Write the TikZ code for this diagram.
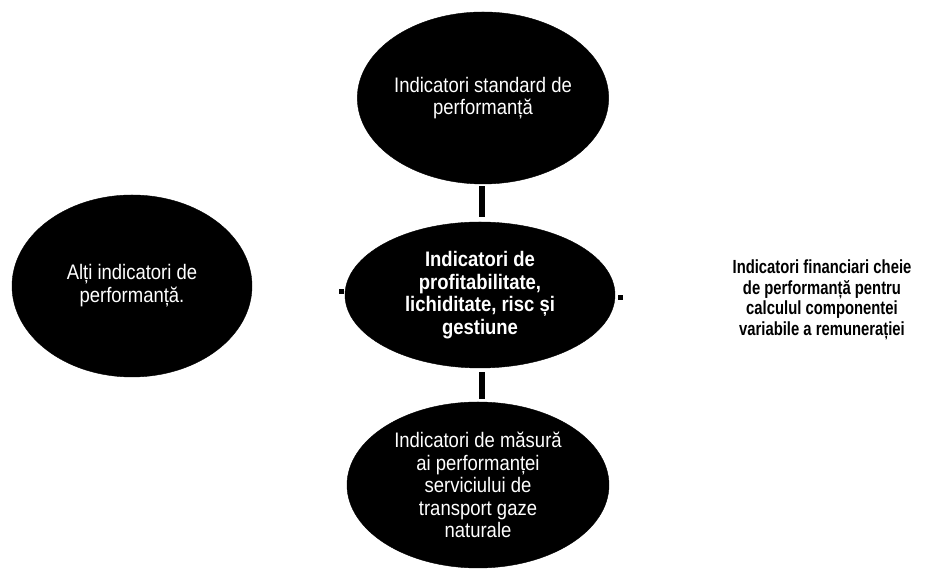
\documentclass[tikz,border=0pt]{standalone}
\usepackage{fontspec}
\setmainfont{Liberation Sans}
\newfontfamily\narrowf[FakeStretch=0.88]{Liberation Sans}
\newfontfamily\condf[FakeStretch=0.78]{Liberation Sans}
\usetikzlibrary{shapes.geometric}
\begin{document}
\begin{tikzpicture}[x=1pt,y=1pt,
  blackell/.style={ellipse, fill=black, draw=black, inner sep=0pt, text=white,
    align=center, font=\narrowf\fontsize{21}{22.5}\selectfont},
  whiteell/.style={ellipse, inner sep=0pt, text=black, align=center,
    font=\condf\bfseries\fontsize{19}{20.5}\selectfont},
  link/.style={line width=6pt, draw=black},
  dotmark/.style={rectangle, fill=black, minimum size=5pt, inner sep=0pt}]
\useasboundingbox (0,0) rectangle (946,569);
\node[blackell, minimum width=248pt, minimum height=172pt] (top) at (483,471)
  {Indicatori standard de\\performanță};
\node[blackell, minimum width=270pt, minimum height=146pt,
  font=\narrowf\bfseries\fontsize{21}{22.5}\selectfont] (mid) at (480,274)
  {Indicatori de\\profitabilitate,\\lichiditate, risc și\\gestiune};
\node[blackell, minimum width=262pt, minimum height=166pt] (bot) at (478,84)
  {Indicatori de măsură\\ai performanței\\serviciului de\\transport gaze\\naturale};
\node[blackell, minimum width=240pt, minimum height=182pt] (left) at (132,283)
  {\raisebox{-4pt}{\shortstack{Alți indicatori de\\performanță.}}};
\node[whiteell, minimum width=260pt, minimum height=190pt] (right) at (822,269)
  {Indicatori financiari cheie\\de performanță pentru\\calculul componentei\\variabile a remunerației};
\node[dotmark] (dl) at (341,277) {};
\node[dotmark] (dr) at (620,271) {};
\coordinate (axis) at (482,0);
\draw[link, shorten <=2pt, shorten >=5pt] (top.south -| axis) -- (mid.north -| axis);
\draw[link, shorten <=4pt, shorten >=3pt] (mid.south -| axis) -- (bot.north -| axis);
\end{tikzpicture}
\end{document}
